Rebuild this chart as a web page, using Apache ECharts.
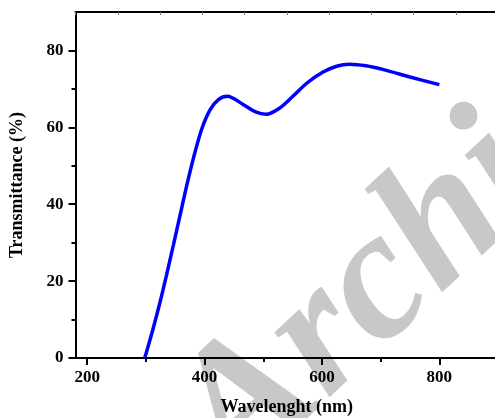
<!DOCTYPE html>
<html>
<head>
<meta charset="utf-8">
<script src="https://cdn.jsdelivr.net/npm/echarts@6/dist/echarts.min.js"></script>
<style>html,body{margin:0;padding:0;background:#fff}#c{width:495px;height:418px}</style>
</head>
<body>
<div id="c"></div>
<script>
// Data
const wavelength = [298, 312, 324, 335, 347, 358, 369, 381, 395, 409, 424, 439, 465, 487, 505, 527, 550, 575, 602, 625, 647, 675, 705, 750, 800];
const transmittance = [0, 7.5, 14.5, 21.5, 29.5, 37, 44.5, 52, 59.5, 64.5, 67.3, 68.1, 66.0, 64.0, 63.4, 64.9, 68.0, 71.6, 74.4, 75.9, 76.4, 76.0, 75.0, 73.1, 71.1];
const xMajorTicks = [200, 400, 600, 800];
const xMinorTicks = [300, 500, 700, 900];
const yMajorTicks = [0, 20, 40, 60, 80];
const yMinorTicks = [10, 30, 50, 70];
const xTitle = 'Wavelenght (nm)';
const yTitle = 'Transmittance (%)';
const watermark = 'Archive';

const FONT = 'Liberation Serif';
const chart = echarts.init(document.getElementById('c'), null, {renderer: 'canvas'});
const labelStyle = {fontFamily: FONT, fontWeight: 'bold', fontSize: 17, color: '#000'};
const hidden = {show: false};

const option = {
  animation: false,
  backgroundColor: '#fff',
  grid: {left: 75.5, top: 12, width: 422.5, height: 346, containLabel: false, outerBoundsMode: 'none'},
  graphic: [{
    type: 'text', z: -10, silent: true,
    x: 204, y: 449, rotation: 43 * Math.PI / 180,
    style: {text: watermark, fill: '#c8c8c8', fontFamily: FONT, fontStyle: 'italic', fontWeight: 'bold', fontSize: 185,
            align: 'left', verticalAlign: 'middle', textAlign: 'left', textVerticalAlign: 'middle'}
  }],
  xAxis: [{
    type: 'value', position: 'bottom', min: 180, max: 900, z: 5,
    name: xTitle, nameLocation: 'middle', nameGap: 40,
    nameTextStyle: {fontFamily: FONT, fontWeight: 'bold', fontSize: 18, color: '#000'},
    axisLine: {show: true, lineStyle: {color: '#000', width: 2}},
    axisTick: {show: true, inside: false, length: 7, lineStyle: {color: '#000', width: 2}, customValues: xMajorTicks},
    axisLabel: Object.assign({margin: 11, customValues: xMajorTicks}, labelStyle),
    splitLine: hidden
  }, {
    type: 'value', position: 'bottom', min: 180, max: 900, z: 5,
    axisLine: hidden, axisLabel: hidden, splitLine: hidden,
    axisTick: {show: true, inside: false, length: 4, lineStyle: {color: '#000', width: 2}, customValues: xMinorTicks}
  }, {
    type: 'value', position: 'top', min: 0, max: 10, interval: 1, z: 5,
    axisLine: {show: true, lineStyle: {color: '#000', width: 2}},
    axisTick: {show: true, inside: true, length: 3, lineStyle: {color: '#777', width: 1}},
    axisLabel: hidden, splitLine: hidden
  }],
  yAxis: [{
    type: 'value', position: 'left', min: 0, max: 90, z: 5,
    name: yTitle, nameLocation: 'middle', nameGap: 49, nameRotate: 90,
    nameTextStyle: {fontFamily: FONT, fontWeight: 'bold', fontSize: 18, color: '#000'},
    axisLine: {show: true, lineStyle: {color: '#000', width: 2}},
    axisTick: {show: true, inside: false, length: 7, lineStyle: {color: '#000', width: 2}, customValues: yMajorTicks},
    axisLabel: Object.assign({margin: 12, customValues: yMajorTicks}, labelStyle),
    splitLine: hidden
  }, {
    type: 'value', position: 'left', min: 0, max: 90, z: 5,
    axisLine: hidden, axisLabel: hidden, splitLine: hidden,
    axisTick: {show: true, inside: false, length: 4, lineStyle: {color: '#000', width: 2}, customValues: yMinorTicks}
  }],
  series: [{
    type: 'line', xAxisIndex: 0, yAxisIndex: 0,
    data: wavelength.map((w, i) => [w, transmittance[i]]),
    smooth: 0.3, showSymbol: false, symbol: 'none',
    lineStyle: {color: '#0000ff', width: 3.5}, z: 3
  }]
};
chart.setOption(option);
</script>
</body>
</html>
